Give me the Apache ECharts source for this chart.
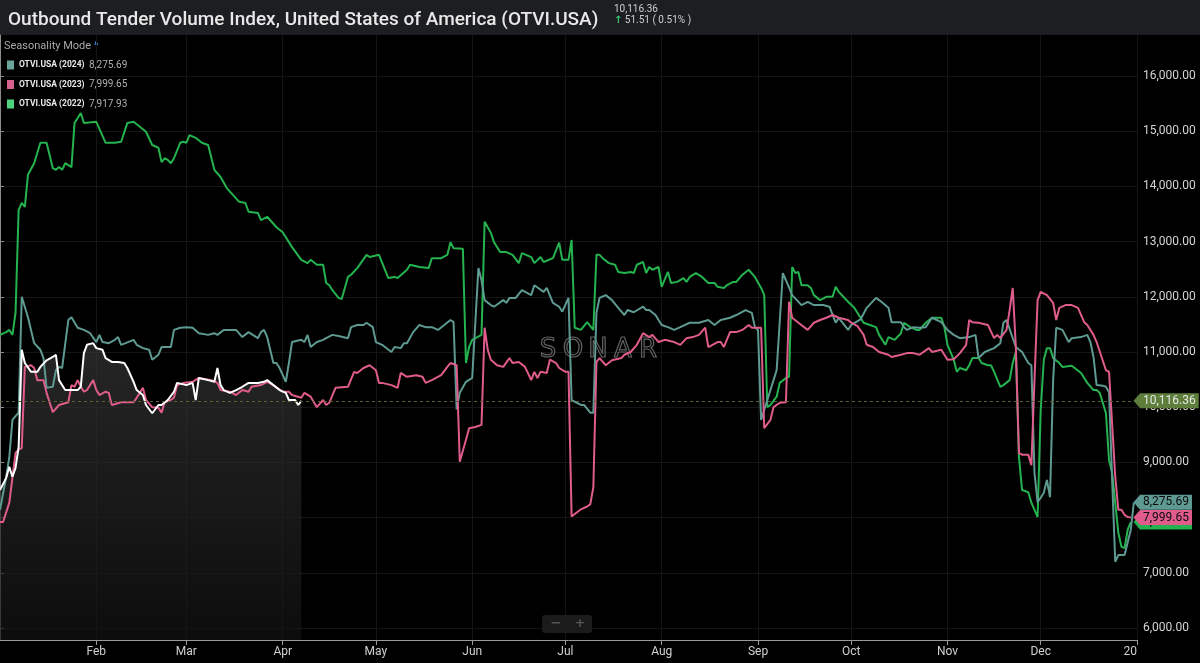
<!DOCTYPE html>
<html>
<head>
<meta charset="utf-8">
<title>Outbound Tender Volume Index</title>
<script src="https://cdn.jsdelivr.net/npm/echarts@6.0.0/dist/echarts.min.js"></script>
<style>
  html, body { margin: 0; padding: 0; background: #000; }
  #chart { width: 1200px; height: 663px; }
</style>
</head>
<body>
<div id="chart"></div>
<script>
// x values are day of year (0 = Jan 1), y values are index points
const monthDays = [31, 60, 91, 121, 152, 182, 213, 244, 274, 305, 335, 366]
const monthLabels = ['Feb', 'Mar', 'Apr', 'May', 'Jun', 'Jul', 'Aug', 'Sep', 'Oct', 'Nov', 'Dec', '20']
const yTicks = [6000, 7000, 8000, 9000, 10000, 11000, 12000, 13000, 14000, 15000, 16000]

const otvi2022 = [
  [0,11310],[2,11360],[3,11400],[4,11310],[5,11710],[6,13570],[7,13700],[8,13630],[9,14210],[11,14420],[13,14790],[15,14790],[17,14330],[18,14300],[19,14350],[20,14300],[21,14420],[23,14350],[24,15150],[26,15330],[27,15150],[31,15170],[34,14790],[37,14790],[39,14810],[41,15150],[43,15170],[47,14990],[49,14750],[51,14700],[52,14440],[53,14510],[54,14480],[55,14420],[56,14510],[58,14790],[59,14810],[60,14790],[61,14930],[63,14880],[65,14790],[67,14750],[69,14300],[71,14170],[73,13970],[77,13720],[79,13700],[80,13540],[83,13520],[84,13390],[86,13450],[89,13260],[91,13170],[94,12900],[97,12670],[99,12610],[100,12670],[102,12580],[104,12580],[105,12250],[106,12210],[107,12120],[109,11980],[110,11960],[112,12360],[113,12400],[115,12520],[118,12760],[119,12720],[122,12760],[125,12340],[127,12360],[128,12340],[131,12490],[132,12580],[135,12540],[138,12520],[139,12700],[142,12700],[144,12760],[145,12990],[146,12880],[149,12870],
  [150,10800],[151,11090],[152,11220],[155,11310],[156,13360],[158,13160],[159,12990],[161,12810],[163,12810],[165,12760],[167,12610],[168,12790],[171,12720],[172,12610],[174,12720],[175,12630],[178,12700],[180,12980],[181,12670],[183,12670],[184,13030],[185,11440],[187,11400],[189,11540],[191,11400],[192,12760],[193,12760],[194,12700],[196,12610],[198,12580],[199,12450],[201,12430],[203,12450],[204,12430],[205,12580],[207,12630],[208,12430],[209,12540],[210,12490],[212,12540],[213,12180],[215,12450],[216,12250],[218,12270],[220,12340],[221,12270],[222,12360],[224,12430],[226,12360],[228,12250],[230,12250],[231,12180],[233,12160],[234,12210],[236,12270],[237,12270],[239,12400],[241,12490],[243,12360],[245,12160],[246,12030],
  [247,10000],[248,10040],[250,10190],[251,10440],[253,10530],[254,10550],[255,12540],[256,12430],[257,12450],[258,12210],[260,12210],[261,12160],[262,12030],[264,11940],[266,12000],[268,12000],[269,12180],[270,12090],[273,11910],[275,11800],[276,11710],[278,11530],[280,11490],[282,11450],[283,11310],[285,11130],[286,11270],[288,11220],[290,11340],[291,11530],[293,11450],[295,11400],[296,11400],[298,11530],[300,11620],[303,11620],[304,11450],[305,11130],[307,10860],[308,10640],[309,10710],[311,10670],[312,10760],[313,10890],[315,10890],[316,10800],[318,10760],[319,10760],[320,10640],[322,10370],[323,10400],[325,10490],[326,10800],[327,11000],
  [328,9100],[329,8500],[331,8460],[332,8270],[334,8010],[335,9950],[336,10860],[337,11070],[338,11070],[339,10890],[341,10800],[342,10730],[345,10750],[348,10620],[350,10440],[352,10310],[353,10310],[354,10260],[356,9890],[357,9040],[358,8810],[360,7720],[361,7470],[362,7450],[363,7780],[364,7917.93]
]

const otvi2023 = [
  [0,7920],[1,7920],[3,8270],[5,9170],[6,9230],[7,9260],[8,10730],[10,10760],[11,10710],[12,10490],[14,10490],[15,10260],[16,10080],[17,9910],[19,10040],[22,10090],[23,10400],[24,10370],[25,10490],[26,10370],[27,10280],[28,10310],[30,10490],[31,10310],[32,10220],[34,10280],[35,10260],[36,10040],[39,10090],[41,10090],[43,10090],[44,10170],[46,10350],[47,10130],[49,10000],[51,9990],[52,9900],[53,10090],[55,10130],[56,10170],[57,10400],[59,10440],[62,10460],[64,10530],[68,10490],[70,10440],[71,10310],[74,10280],[76,10220],[78,10310],[80,10280],[81,10370],[84,10400],[86,10460],[88,10400],[91,10280],[93,10280],[94,10220],[97,10170],[98,10260],[100,10190],[102,10000],[104,10130],[105,10040],[106,10080],[108,10350],[112,10370],[114,10640],[115,10620],[117,10710],[119,10760],[121,10670],[122,10440],[123,10440],[126,10400],[128,10350],[129,10620],[131,10550],[134,10580],[136,10550],[137,10440],[139,10490],[142,10580],[144,10730],[145,10800],[147,10760],
  [148,9010],[150,9410],[151,9620],[153,9640],[155,9680],[156,11440],[157,11040],[158,10860],[160,10760],[162,10730],[164,10890],[165,10800],[167,10820],[169,10730],[171,10490],[172,10640],[173,10530],[174,10640],[176,10620],[177,10860],[179,10800],[180,10710],[182,10640],[183,10640],
  [184,8020],[187,8150],[189,8200],[190,8240],[191,8550],[192,10820],[193,10890],[195,10760],[197,10850],[200,10890],[201,10950],[203,11000],[205,11130],[207,11340],[209,11270],[210,11310],[212,11180],[214,11220],[217,11180],[219,11130],[221,11250],[223,11270],[225,11310],[227,11440],[228,11090],[231,11180],[232,11180],[233,11090],[235,11360],[237,11360],[239,11400],[241,11490],[242,11440],[244,11440],[245,11440],
  [246,9620],[248,9770],[249,10000],[251,10080],[253,10090],[254,11910],[255,11620],[257,11530],[260,11400],[262,11530],[264,11580],[266,11620],[268,11670],[270,11620],[273,11580],[274,11530],[276,11470],[278,11310],[279,11130],[281,11090],[283,11000],[286,10950],[287,10910],[290,10950],[292,10980],[294,10980],[296,10950],[299,11070],[300,11000],[303,11040],[305,10860],[307,10870],[309,10980],[311,11130],[312,11580],[313,11540],[315,11530],[318,11490],[320,11250],[321,11310],[322,11250],[324,11400],[325,11760],[326,12160],[327,11090],
  [328,9170],[329,9140],[331,9140],[332,8950],[333,10490],[334,11940],[335,12090],[337,12030],[339,11890],[340,11580],[341,11800],[343,11850],[345,11850],[347,11800],[349,11540],[350,11490],[352,11310],[353,11180],[356,10670],[357,10640],[359,8740],[360,8140],[361,8140],[362,8050],[363,8010],[364,7999.65]
]

const otvi2024 = [
  [0,8140],[2,8740],[3,9100],[4,9770],[6,9900],[7,12000],[9,11630],[11,11160],[13,11040],[14,10890],[15,10350],[17,10370],[18,10670],[19,10730],[20,10710],[22,11580],[23,11630],[25,11440],[27,11400],[29,11340],[31,11180],[32,11310],[33,11180],[35,11160],[37,11220],[38,11270],[39,11130],[43,11220],[44,11130],[46,11070],[48,11040],[49,10860],[51,10950],[52,11090],[55,11090],[56,11400],[58,11440],[60,11450],[62,11440],[64,11340],[67,11310],[69,11340],[70,11310],[72,11400],[74,11400],[76,11400],[78,11270],[80,11360],[83,11250],[84,11360],[85,11400],[86,11270],[88,10800],[89,10800],[90,10710],[92,10460],[93,10800],[94,11180],[97,11220],[98,11180],[99,11310],[100,11090],[102,11180],[104,11220],[105,11250],[107,11310],[109,11290],[112,11250],[113,11450],[115,11490],[117,11490],[118,11530],[120,11450],[121,11180],[123,11130],[126,11000],[127,11090],[129,11070],[130,11160],[131,11160],[133,11360],[135,11490],[137,11450],[139,11450],[141,11400],[143,11490],[145,11580],[146,11540],
  [147,9960],[148,10260],[150,10460],[152,10530],[154,12520],[155,12300],[156,11940],[158,11850],[159,11820],[162,11940],[163,11890],[164,11980],[166,11980],[168,12120],[171,12030],[172,12210],[175,12090],[176,12160],[178,11890],[180,11820],[181,11730],[183,11980],
  [184,10130],[187,10040],[188,10040],[190,9900],[191,9900],[192,11710],[193,11980],[195,12030],[197,11940],[199,11800],[201,11670],[202,11760],[204,11720],[207,11820],[208,11760],[209,11760],[211,11670],[213,11490],[215,11450],[217,11400],[219,11450],[222,11530],[225,11530],[228,11580],[230,11490],[232,11580],[235,11620],[237,11670],[240,11760],[242,11710],[243,11450],[244,11400],
  [245,9770],[247,10130],[249,10490],[250,10670],[252,12430],[253,12300],[255,12030],[258,11850],[260,11910],[262,11850],[265,11850],[267,11820],[269,11530],[270,11620],[273,11400],[274,11490],[277,11590],[279,11800],[282,11980],[283,11940],[286,11800],[287,11540],[290,11540],[291,11450],[292,11400],[294,11450],[296,11440],[298,11450],[300,11620],[303,11540],[305,11400],[307,11310],[309,11250],[312,11270],[314,11310],[315,10890],[317,11000],[320,11070],[322,11160],[323,11530],[324,11580],[326,11250],[327,11090],[329,11000],[331,10800],[332,10760],
  [333,8810],[334,8280],[335,8360],[336,8450],[337,8680],[338,8370],[339,10490],[340,11440],[342,11400],[344,11180],[345,11250],[348,11270],[350,11310],[351,11180],[352,10910],[353,10400],[355,10390],[356,10370],[357,10270],[358,8680],[359,7200],[360,7320],[362,7320],[364,7780],[365,8275.69]
]

const otviCurrent = [
  [0,8500],[2,8720],[3,8920],[4,8740],[5,8900],[6,9280],[7,11040],[8,10800],[10,10640],[12,10640],[13,10730],[15,10850],[17,10910],[18,10950],[19,10490],[21,10310],[23,10310],[25,10310],[26,10370],[27,10980],[28,11130],[30,11160],[31,11070],[33,11040],[34,10890],[36,10820],[38,10820],[40,10800],[41,10710],[43,10460],[44,10310],[46,10220],[47,10040],[49,9890],[51,10040],[52,10040],[54,10130],[56,10280],[57,10440],[60,10400],[62,10440],[63,10130],[64,10530],[67,10490],[69,10460],[70,10710],[71,10400],[72,10310],[74,10260],[76,10310],[78,10370],[80,10440],[83,10440],[85,10460],[86,10490],[88,10400],[90,10310],[92,10260],[93,10130],[95,10130],[96,10040],[97,10116.36]
]

const fmt2 = v => v.toLocaleString('en-US', { minimumFractionDigits: 2, maximumFractionDigits: 2 })
const lastOf = arr => arr[arr.length - 1][1]

const chart = echarts.init(document.getElementById('chart'), null, { renderer: 'canvas' })

// price tag on the right axis for the last value of a series
function tagLine(value, bg, textColor, lineStyle) {
  return {
    silent: true,
    symbol: ['none', 'none'],
    lineStyle: lineStyle || { width: 0, color: 'rgba(0,0,0,0)' },
    label: {
      position: 'end', distance: 3, formatter: fmt2(value),
      backgroundColor: bg, color: textColor, padding: [2, 3, 1, 3],
      fontSize: 12, fontFamily: 'Roboto', opacity: 1
    },
    emphasis: { disabled: true },
    data: [{ yAxis: value }]
  }
}

function tagArrow(value, color) {
  return {
    silent: true,
    symbol: 'triangle',
    symbolSize: [16, 7],
    symbolRotate: 90,
    itemStyle: { color },
    label: { show: false },
    data: [{ coord: [366, value] }]
  }
}

function lineSeries(name, data, color, tagBg, tagText) {
  return {
    name, type: 'line', data, color,
    showSymbol: false, symbol: 'none',
    lineStyle: { width: 2, color },
    emphasis: { disabled: true },
    markLine: tagLine(lastOf(data), tagBg, tagText),
    markPoint: tagArrow(lastOf(data), tagBg)
  }
}

const legendValues = {
  'OTVI.USA (2024)': fmt2(lastOf(otvi2024)),
  'OTVI.USA (2023)': fmt2(lastOf(otvi2023)),
  'OTVI.USA (2022)': fmt2(lastOf(otvi2022))
}

chart.setOption({
  backgroundColor: '#000',
  animation: false,
  title: {
    text: 'Outbound Tender Volume Index, United States of America (OTVI.USA)',
    left: 3, top: 6,
    textStyle: { color: '#e8e8e8', fontSize: 19, fontWeight: 500, fontFamily: 'Roboto' }
  },
  graphic: [
    { type: 'rect', x: 0, y: 0, z: -10, shape: { width: 1200, height: 35 }, style: { fill: '#1d1e21' } },
    { type: 'text', x: 614, y: 4, style: { text: '10,116.36', fill: '#cfcfcf', font: '10px Roboto' } },
    { type: 'text', x: 614, y: 15, style: { text: '{u|↑} 51.51 ( 0.51% )', fill: '#cfcfcf', font: '10px Roboto', rich: { u: { fill: '#35c97a', font: 'bold 10px DejaVu Sans' } } } },
    { type: 'text', x: 4, y: 41, style: { text: 'Seasonality Mode {c|^}', fill: '#a8a8a8', font: '11px Roboto', rich: { c: { fill: '#3d8fe0', font: 'bold 10px Roboto' } } } },
    {
      type: 'text', x: 598, y: 350, z: 1,
      style: {
        text: '{a|S}{a|O}{a|N}{a|A}{a|R}', align: 'center', verticalAlign: 'middle',
        rich: { a: { width: 25, align: 'center', font: '26px DejaVu Sans', fill: 'rgba(0,0,0,0)', stroke: '#626262', lineWidth: 1.2 } }
      }
    },
    { type: 'rect', x: 542, y: 615, z: 5, shape: { width: 50, height: 18, r: 3 }, style: { fill: '#1b1b1b' } },
    { type: 'text', x: 556, y: 624, z: 6, style: { text: '−', fill: '#555', font: 'bold 13px DejaVu Sans', align: 'center', verticalAlign: 'middle' } },
    { type: 'text', x: 580, y: 624, z: 6, style: { text: '+', fill: '#555', font: 'bold 13px DejaVu Sans', align: 'center', verticalAlign: 'middle' } }
  ],
  legend: {
    orient: 'vertical', left: 2, top: 55,
    itemWidth: 7, itemHeight: 9, itemGap: 9.5, icon: 'rect',
    selectedMode: false,
    data: [
      { name: 'OTVI.USA (2024)', itemStyle: { color: '#6aa59b' } },
      { name: 'OTVI.USA (2023)', itemStyle: { color: '#d4618b' } },
      { name: 'OTVI.USA (2022)', itemStyle: { color: '#4fd47c' } }
    ],
    formatter: name => `{n|${name}}{v|${legendValues[name]}}`,
    textStyle: {
      rich: {
        n: { fontSize: 8.5, fontWeight: 'bold', color: '#e8e8e8', width: 70, fontFamily: 'Roboto', lineHeight: 12 },
        v: { fontSize: 10, color: '#b0b0b0', fontFamily: 'Roboto', lineHeight: 12 }
      }
    }
  },
  grid: { left: 0, right: 63, top: 35, bottom: 23, containLabel: false },
  xAxis: {
    type: 'value', min: 0, max: 366,
    axisLine: { show: true, lineStyle: { color: '#9a9a9a' } },
    axisTick: { show: true, length: 5, customValues: monthDays, lineStyle: { color: '#9a9a9a' } },
    axisLabel: {
      customValues: monthDays, color: '#d0d0d0', fontSize: 12, margin: 6, fontFamily: 'Roboto',
      alignMaxLabel: 'right',
      formatter: v => monthLabels[monthDays.indexOf(v)]
    },
    splitLine: { show: true, lineStyle: { color: '#151515' } }
  },
  yAxis: {
    type: 'value', position: 'right', min: 5782, max: 16743,
    axisLine: { show: true, lineStyle: { color: '#8c8c8c' } },
    axisTick: { show: true, length: 4, customValues: yTicks, lineStyle: { color: '#8c8c8c' } },
    axisLabel: { customValues: yTicks, formatter: fmt2, color: '#d4d4d4', fontSize: 12, margin: 6, fontFamily: 'Roboto' },
    splitLine: { show: true, lineStyle: { color: '#151515' } }
  },
  series: [
    lineSeries('OTVI.USA (2022)', otvi2022, '#25b34f', '#25b34f', '#0b0b0b'),
    lineSeries('OTVI.USA (2024)', otvi2024, '#5e9a91', '#5e9a91', '#0b0b0b'),
    lineSeries('OTVI.USA (2023)', otvi2023, '#e05c8c', '#e05c8c', '#0b0b0b'),
    {
      name: 'OTVI.USA (2025)', type: 'line', data: otviCurrent, color: '#ffffff',
      showSymbol: false, symbol: 'none',
      lineStyle: { width: 2, color: '#ffffff' },
      emphasis: { disabled: true },
      areaStyle: {
        origin: 'start',
        color: new echarts.graphic.LinearGradient(0, 0, 0, 1, [
          { offset: 0, color: '#363636' },
          { offset: 1, color: '#121212' }
        ])
      },
      markLine: tagLine(lastOf(otviCurrent), '#5e7e3c', '#e8e8e8', { type: [3, 3], color: '#5a6030', width: 1, opacity: 1 }),
      markPoint: tagArrow(lastOf(otviCurrent), '#5e7e3c')
    }
  ]
})
</script>
</body>
</html>
